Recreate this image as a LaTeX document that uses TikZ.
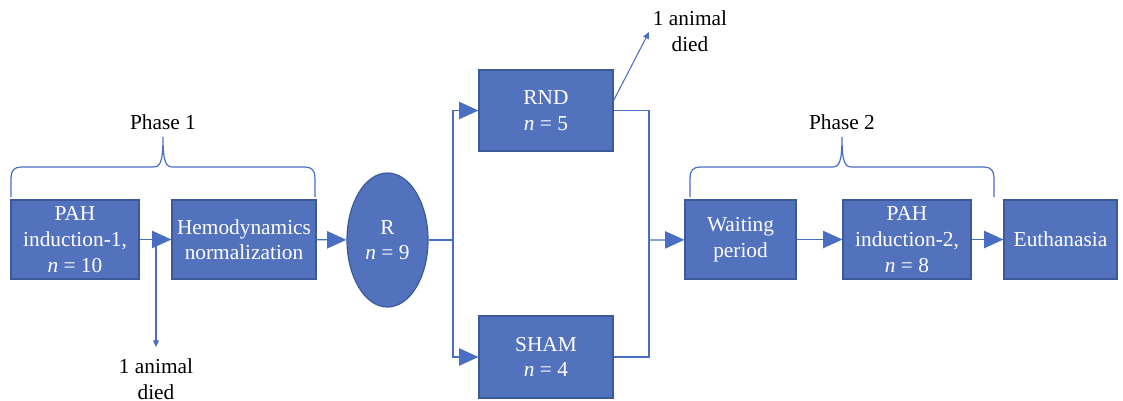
\documentclass[tikz,border=0pt]{standalone}
\usepackage{fontspec}
\setmainfont{Liberation Serif}
\usetikzlibrary{calc,arrows.meta,shapes.geometric}
\definecolor{boxfill}{HTML}{5372BD}
\definecolor{boxline}{HTML}{3C5A9A}
\definecolor{link}{HTML}{4A6FC2}
\newdimen\px \px=0.75pt
\tikzset{
  stage/.style={draw=boxline, fill=boxfill, line width=0.9pt, text=white,
    align=center, inner sep=1pt, font=\fontsize{16}{19.2}\selectfont},
  flow/.style={draw=link, line width=0.9pt,
    -{Triangle[length=14.5pt,width=13pt]}},
  tee/.style={draw=link, line width=0.9pt},
  loss/.style={draw=link, line width=0.8pt,
    -{Triangle[length=5pt,width=4.5pt]}},
  brace/.style={draw=link, line width=0.9pt},
  lab/.style={text=black, align=center, font=\fontsize{16}{19.2}\selectfont},
}

\begin{document}
\begin{tikzpicture}[x=0.75pt,y=-0.75pt]
  \useasboundingbox (0,0) rectangle (1123,400);

  \node[stage, minimum width=128\px, minimum height=79\px] (pah1) at (75,239.5)
    {PAH\\induction-1,\\\textit{n} = 10};
  \node[stage, minimum width=144\px, minimum height=79\px] (hemo) at (244,239.5)
    {Hemodynamics\\normalization};
  \node[stage, ellipse, inner sep=0pt, minimum width=81\px, minimum height=134\px] (rand) at (387.5,240)
    {R\\\textit{n} = 9};
  \node[stage, minimum width=134\px, minimum height=81\px] (rnd) at (546,110.5)
    {RND\\\textit{n} = 5};
  \node[stage, minimum width=134\px, minimum height=82\px] (sham) at (546,357)
    {SHAM\\\textit{n} = 4};
  \node[stage, minimum width=111\px, minimum height=79\px] (wait) at (740.5,239.5)
    {Waiting\\period};
  \node[stage, minimum width=128\px, minimum height=79\px] (pah2) at (907,239.5)
    {PAH\\induction-2,\\\textit{n} = 8};
  \node[stage, minimum width=113\px, minimum height=79\px] (euth) at (1060.5,239.5)
    {Euthanasia};

  \coordinate (split) at (453,240);
  \coordinate (join) at (649,240);
  \coordinate (drop) at (156,240);

  % losses
  \node[lab] (died1) at (156,379) {1 animal\\died};
  \node[lab] (died2) at (690,31.5) {1 animal\\died};
  \coordinate (died1tip) at (156,347);
  \coordinate (died2tip) at (649,32);

  \draw[flow] (pah1) -- (hemo);
  \draw[loss] (drop) -- (died1tip);
  \draw[flow] (hemo) -- (rand);
  \draw[tee] (rand) -- (split);
  \draw[flow] (split) |- (rnd.west);
  \draw[flow] (split) |- (sham.west);
  \draw[tee] (rnd.east) -| (join) |- (sham.east);
  \draw[loss] ($(rnd.east)+(0,-10)$) -- (died2tip);
  \draw[flow] (join) -- (wait);
  \draw[flow] (wait) -- (pah2);
  \draw[flow] (pah2) -- (euth);

  % phase braces
  \draw[brace] (11,197) -- (11,178) .. controls (11,171) and (14,167) .. (21,167)
    -- (153,167) .. controls (160,167) and (163,163) .. (163,137)
    .. controls (163,163) and (166,167) .. (173,167)
    -- (305,167) .. controls (312,167) and (315,171) .. (315,178) -- (315,197);
  \node[lab] (ph1) at (163,122) {Phase 1};

  \draw[brace] (690,197) -- (690,178) .. controls (690,171) and (693,167) .. (700,167)
    -- (832,167) .. controls (839,167) and (842,163) .. (842,137)
    .. controls (842,163) and (845,167) .. (852,167)
    -- (984,167) .. controls (991,167) and (994,171) .. (994,178) -- (994,197);
  \node[lab] (ph2) at (842,122) {Phase 2};
\end{tikzpicture}
\end{document}
